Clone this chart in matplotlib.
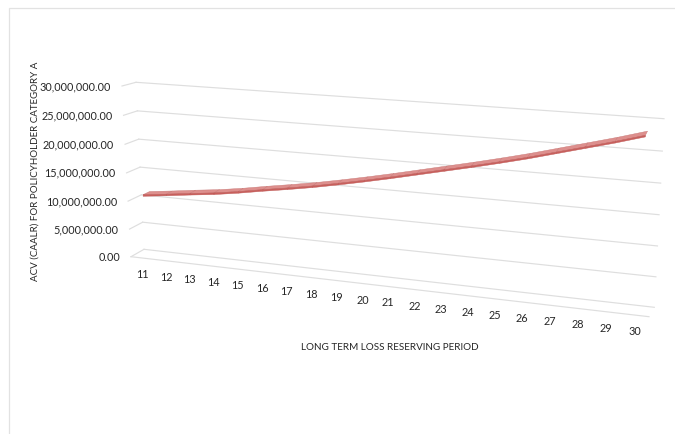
import numpy as np
import matplotlib
matplotlib.use("Agg")
import matplotlib.pyplot as plt
from matplotlib.transforms import Transform

# ---- data ----
periods = list(range(11, 31))
acv_values = [11.05e6, 11.55e6, 12.1e6, 12.6e6, 13.25e6, 14.0e6, 14.7e6, 15.45e6, 16.3e6, 17.2e6,
              18.15e6, 19.15e6, 20.15e6, 21.15e6, 22.2e6, 23.3e6, 24.5e6, 25.7e6, 26.9e6, 28.2e6]
value_ticks = [0, 5e6, 10e6, 15e6, 20e6, 25e6, 30e6]
x_title = "LONG TERM LOSS RESERVING PERIOD"
y_title = "ACV (CAALR) FOR POLICYHOLDER CATEGORY A"

# ---- projection of the 3-D chart box (pixel corners of walls) ----
BACK = dict(ll=(144, 249.3), lr=(654.3, 307.3), ul=(136, 82.3), ur=(664, 118.7))
FRONT = dict(ll=(131, 256.7), lr=(649, 316.7), ul=(122, 86), ur=(660, 127))
XR = (10.5, 30.5)
VR = (0, 30e6)


class Wall(Transform):
    input_dims = output_dims = 2

    def __init__(self, depth, xr=XR):
        super().__init__()
        self.xr = xr
        c = {k: (1 - depth) * np.array(BACK[k]) + depth * np.array(FRONT[k]) for k in BACK}
        src = [(0, 0), (1, 0), (0, 1), (1, 1)]
        dst = [c['ll'], c['lr'], c['ul'], c['ur']]
        A, b = [], []
        for (u, v), (X, Y) in zip(src, dst):
            A.append([u, v, 1, 0, 0, 0, -u * X, -v * X]); b.append(X)
            A.append([0, 0, 0, u, v, 1, -u * Y, -v * Y]); b.append(Y)
        self.H = np.append(np.linalg.solve(np.array(A, float), np.array(b, float)), 1).reshape(3, 3)

    def transform_non_affine(self, values):
        values = np.asarray(values, float)
        u = (values[:, 0] - self.xr[0]) / (self.xr[1] - self.xr[0])
        v = (values[:, 1] - VR[0]) / (VR[1] - VR[0])
        p = np.c_[u, v, np.ones_like(u)] @ self.H.T
        return p[:, :2] / p[:, 2:]

    def transform(self, values):
        return self.transform_non_affine(values)


plt.rcParams['font.family'] = ['Lato', 'DejaVu Sans']
fig = plt.figure(figsize=(6.75, 4.34), dpi=100)
ax = fig.add_axes([0, 0, 1, 1])
ax.set_xlim(0, 675)
ax.set_ylim(434, 0)
ax.axis('off')

# page border
ax.plot([8.5, 8.5, 675], [434, 7.5, 7.5], color='#E2E2E2', lw=0.9, solid_joinstyle='miter')

back, front = Wall(0), Wall(1)
grid = '#DEDEDE'
txt = '#262626'
for v in value_ticks:
    p = back.transform(np.array([[XR[0], v], [XR[1], v]]))
    ax.plot(p[:, 0], p[:, 1], color=grid, lw=0.85)
    a = front.transform(np.array([[XR[0], v]]))[0]
    ax.plot([a[0], p[0, 0]], [a[1], p[0, 1]], color=grid, lw=0.85)
    ax.text(a[0] - 11, a[1] + 0.5, f"{v:,.2f}", ha='right', va='center', fontsize=7.8, color=txt)
# floor front edge
p = front.transform(np.array([[XR[0], 0], [XR[1], 0]]))
ax.plot(p[:, 0], p[:, 1], color=grid, lw=0.85)

# category labels
for c in periods:
    a = front.transform(np.array([[c, 0]]))[0]
    ax.text(a[0], a[1] + 16.5, str(c), ha='center', va='center', fontsize=7.8, color=txt)

# ribbon
xy = np.c_[periods, acv_values]
rb = Wall(0.22, XR).transform(xy)
rf = Wall(0.72, XR).transform(xy)
rl = rf + np.array([0, 1.6])
for i in range(len(periods) - 1):
    top = np.array([rb[i], rb[i + 1], rf[i + 1], rf[i]])
    face = np.array([rf[i], rf[i + 1], rl[i + 1], rl[i]])
    ax.fill(top[:, 0], top[:, 1], facecolor='#DD8F8D', edgecolor='#C77775', lw=0.3, zorder=5)
    ax.fill(face[:, 0], face[:, 1], facecolor='#C9605D', edgecolor='#BC5552', lw=0.3, zorder=6)

ax.text(389.5, 347, x_title, ha='center', va='center', fontsize=7.15, color=txt)
ax.text(35.5, 171.5, y_title, ha='center', va='center', rotation=90, fontsize=7.05, color=txt)

fig.savefig('out.png', dpi=100)
